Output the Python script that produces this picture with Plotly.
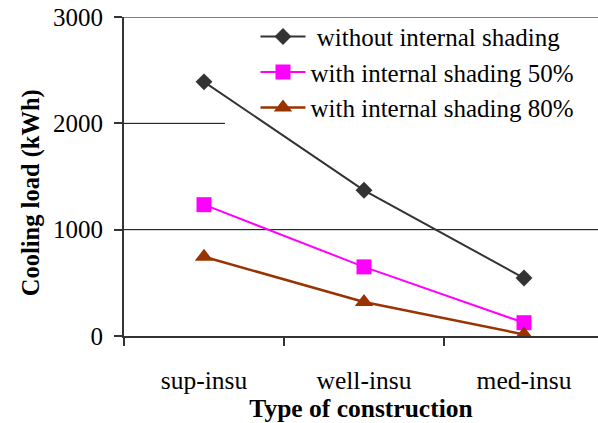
import plotly.graph_objects as go

# Cooling load by construction type and internal shading level
categories = ["sup-insu", "well-insu", "med-insu"]
no_shading = [2390, 1370, 545]
shading_50 = [1235, 650, 125]
shading_80 = [745, 320, 15]
y_ticks = [0, 1000, 2000, 3000]

FONT = "Liberation Serif, Times New Roman, serif"
x_pos = list(range(len(categories)))
LEGEND_LEFT = 0.213  # left edge of the white legend panel, in plot fraction

fig = go.Figure()
fig.add_trace(go.Scatter(
    x=x_pos, y=no_shading, mode="lines+markers", name=" without internal shading",
    line=dict(color="#333333", width=2),
    marker=dict(symbol="diamond", size=13, color="#333333"),
))
fig.add_trace(go.Scatter(
    x=x_pos, y=shading_50, mode="lines+markers", name="with internal shading 50%",
    line=dict(color="#FF00FF", width=2),
    marker=dict(symbol="square", size=15, color="#FF00FF"),
))
fig.add_trace(go.Scatter(
    x=x_pos, y=shading_80, mode="lines+markers", name="with internal shading 80%",
    line=dict(color="#993300", width=2.5),
    marker=dict(symbol="triangle-up", size=16, color="#993300"),
))

# gridlines drawn as shapes so the one behind the legend panel stops at its edge
legend_bottom = 0.645 * y_ticks[-1]
for v in y_ticks[1:]:
    top = v == y_ticks[-1]
    x_end = LEGEND_LEFT if legend_bottom < v < y_ticks[-1] else 1.0
    fig.add_shape(
        type="line", xref="paper", yref="y", layer="below",
        x0=0, x1=x_end, y0=v, y1=v,
        line=dict(color="#808080" if top else "black", width=2 if top else 1),
    )

fig.add_annotation(
    text="<b>Cooling load (kWh)</b>", textangle=-90,
    xref="paper", yref="paper", x=-0.196, y=0.448,
    xanchor="center", yanchor="middle", showarrow=False,
    font=dict(family=FONT, size=24.5, color="black"),
)

fig.update_layout(
    width=598, height=423,
    margin=dict(l=124, r=0, t=17, b=87),
    paper_bgcolor="white", plot_bgcolor="white",
    font=dict(family=FONT, size=25, color="black"),
    showlegend=True,
    legend=dict(
        x=0.2774, y=1.01, xanchor="left", yanchor="top",
        bgcolor="rgba(0,0,0,0)", borderwidth=0,
        font=dict(family=FONT, size=25, color="black"),
        tracegroupgap=0, itemwidth=45,
    ),
    xaxis=dict(
        range=[-0.5, 2.4625], tickvals=x_pos, ticktext=categories,
        ticks="", showgrid=False, zeroline=False,
        showline=True, linecolor="#333333", linewidth=2,
        ticklabelstandoff=20,
        minor=dict(tickvals=[-0.5, 0.5, 1.5], ticks="outside", ticklen=8,
                   tickcolor="#333333", tickwidth=1.5, showgrid=False),
        title=dict(text="<b>Type of construction</b>", standoff=10,
                   font=dict(family=FONT, size=25.5)),
        tickfont=dict(family=FONT, size=25.5),
    ),
    yaxis=dict(
        range=[0, 3000], tickvals=y_ticks,
        ticks="outside", ticklen=8, tickcolor="#333333", tickwidth=1.5,
        showgrid=False, zeroline=False,
        showline=True, linecolor="#333333", linewidth=2,
        ticklabelstandoff=6,
        tickfont=dict(family=FONT, size=25),
    ),
)

fig.write_html("out.html")
